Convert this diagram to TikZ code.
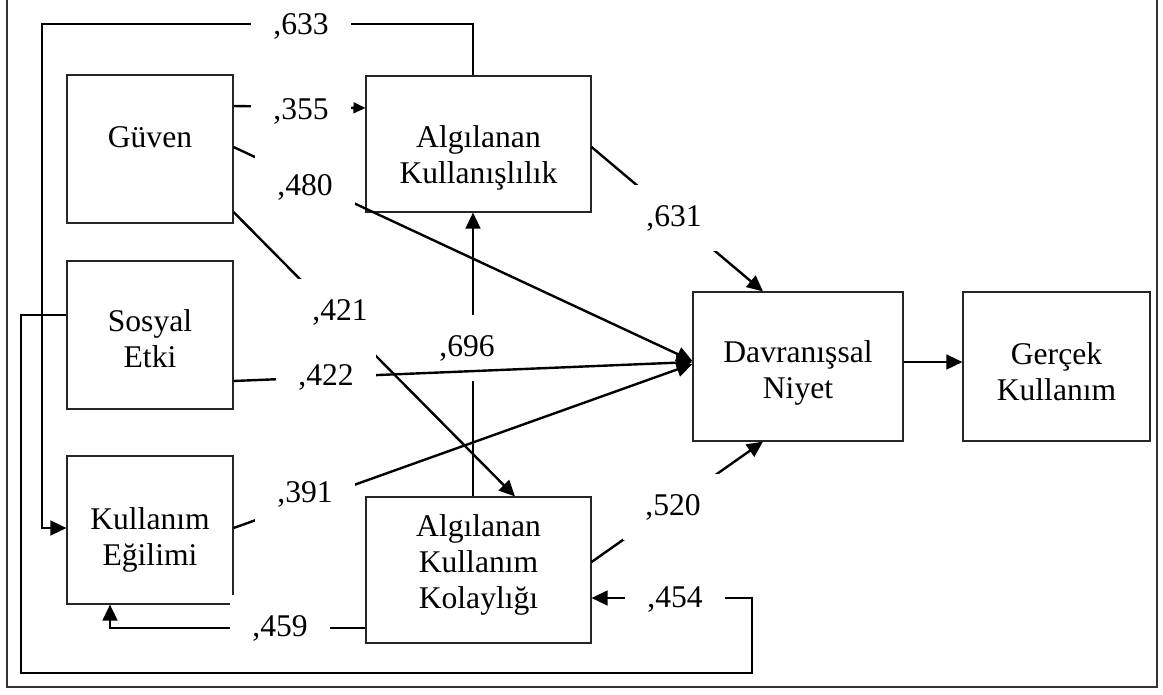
\documentclass[tikz,border=0pt]{standalone}
\usepackage{fontspec}
\setmainfont{Liberation Serif}
\usetikzlibrary{arrows.meta}
\begin{document}
\begin{tikzpicture}[x=0.75pt,y=-0.75pt,
  box/.style={draw=black!85, line width=0.8pt, inner sep=0pt},
  txt/.style={align=center, inner sep=0pt, font=\fontsize{23.7pt}{27pt}\selectfont},
  lbl/.style={fill=white, minimum width=75pt, minimum height=49.5pt, inner sep=0pt, font=\fontsize{23.7pt}{27pt}\selectfont},
  conn/.style={line width=1.8pt, -{Triangle[length=12pt,width=11pt]}},
  smallconn/.style={line width=1.8pt, -{Triangle[length=9pt,width=8pt]}}]
\useasboundingbox (0,0) rectangle (1163,694);
% outer frame
\draw[line width=1.1pt, draw=black!80] (7,0) -- (7,687) -- (1157,687) -- (1157,0);
% boxes
\node[box, minimum width=124.5pt, minimum height=111pt] (guven) at (150,149) {};
\node[box, minimum width=168.75pt, minimum height=102pt] (ak) at (478.5,144) {};
\node[box, minimum width=124.5pt, minimum height=111pt] (se) at (150,335) {};
\node[box, minimum width=124.5pt, minimum height=111pt] (ke) at (150,530) {};
\node[box, minimum width=168.75pt, minimum height=109.5pt] (akk) at (478.5,570) {};
\node[box, minimum width=157.5pt, minimum height=111.75pt] (dn) at (798,366.5) {};
\node[box, minimum width=140.25pt, minimum height=111.75pt] (gk) at (1056.5,366.5) {};
% box texts
\node[txt] (guvenT) at (150,137.5) {Güven};
\node[txt] (akT) at (478.5,158) {Algılanan\\Kullanışlılık};
\node[txt] (seT) at (150,339) {Sosyal\\Etki};
\node[txt] (keT) at (150,540) {Kullanım\\Eğilimi};
\node[txt] (akkT) at (478.5,565) {Algılanan\\Kullanım\\Kolaylığı};
\node[txt] (dnT) at (798,373) {Davranışsal\\Niyet};
\node[txt] (gkT) at (1056.5,371.5) {Gerçek\\Kullanım};
% connectors
\draw[conn] (ak.north -| 473,0) -- (473,24) -- (42,24) -- (42,528) -- (ke.west |- 0,528);
\draw[smallconn] (guven.east |- 0,106) -- (ak.west |- 0,108);
\draw[conn] (guven.east |- 0,147) -- (dn.west |- 0,361);
\draw[conn] (guven.east |- 0,212) -- (akk.north -| 515,0);
\draw[conn] (ke.east |- 0,528) -- (dn.west |- 0,364);
\draw[conn] (ak.east |- 0,147) -- (dn.north -| 763,0);
\draw[conn] (akk.east |- 0,562) -- (dn.south -| 763,0);
\draw[conn] (akk.north -| 473,0) -- (ak.south -| 473,0);
\draw[conn] (dn.east |- 0,362) -- (gk.west |- 0,362);
\draw[conn] (akk.west |- 0,628) -- (110,628) -- (ke.south -| 110,0);
\draw[conn] (se.west |- 0,315) -- (21,315) -- (21,673) -- (752,673) -- (752,598) -- (akk.east |- 0,598);
% labels
\node[lbl] (l633) at (301,26) {,633};
\node[lbl] (l355) at (301,111) {,355};
\node[lbl] (l480) at (305,187) {,480};
\node[lbl] (l421) at (340,312) {,421};
\node[lbl] (l696) at (467,348) {,696};
\node[lbl] (l391) at (305,494) {,391};
\node[lbl] (l631) at (674,218) {,631};
\node[lbl] (l520) at (673,507) {,520};
\node[lbl] (l459) at (280,628) {,459};
\node[lbl] (l454) at (675,600) {,454};
% 422 connector drawn over the ,696 label
\draw[conn] (se.east |- 0,381) -- (dn.west |- 0,362);
\node[lbl] (l422) at (326,377) {,422};
\end{tikzpicture}
\end{document}
